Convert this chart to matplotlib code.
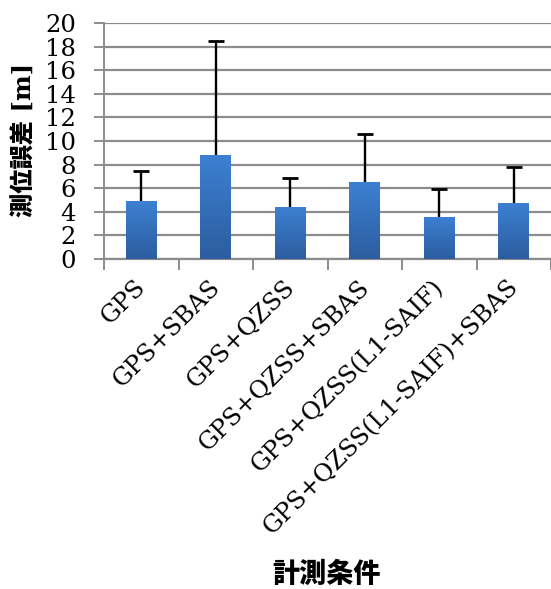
import numpy as np
import matplotlib
matplotlib.use("Agg")
import matplotlib.pyplot as plt
import matplotlib.transforms as mtransforms
from matplotlib.colors import LinearSegmentedColormap

categories = ["GPS", "GPS+SBAS", "GPS+QZSS", "GPS+QZSS+SBAS",
              "GPS+QZSS(L1-SAIF)", "GPS+QZSS(L1-SAIF)+SBAS"]
mean_err = [4.9, 8.8, 4.4, 6.5, 3.6, 4.75]
std_err = [2.6, 9.7, 2.5, 4.1, 2.3, 3.05]
yticks = [0, 2, 4, 6, 8, 10, 12, 14, 16, 18, 20]

fig = plt.figure(figsize=(5.51, 5.89), dpi=100)
ax = fig.add_axes([104/551, 1-259/589, 447/551, (259-23)/589])

x = np.arange(len(categories))
bars = ax.bar(x, mean_err, width=0.41, color="#3570bb", zorder=3)
top = np.array(mean_err) + np.array(std_err)
ax.vlines(x, mean_err, top, colors="black", linewidth=1.7, zorder=2.5)
ax.plot(x, top, linestyle="none", marker="_", markersize=11,
        markeredgewidth=2.0, color="black", zorder=2.6)

# gradient fill clipped to bars
cmap = LinearSegmentedColormap.from_list("g", ["#2c5d9f", "#3d80d2"])
grad = np.linspace(0, 1, 256).reshape(-1, 1)
for b in bars:
    bx, by = b.get_x(), b.get_y()
    w, h = b.get_width(), b.get_height()
    im = ax.imshow(grad, cmap=cmap, aspect="auto", origin="lower",
                   extent=[bx, bx + w, by, by + h], zorder=3.5)
    im.set_clip_path(b)

ax.set_xlim(-0.5, len(categories) - 0.5)
ax.set_ylim(0, 20)
ax.set_yticks(yticks)
ax.set_yticklabels([str(t) for t in yticks], family="DejaVu Serif", fontsize=17.5)
ax.yaxis.grid(True, color="#8c8c8c", linewidth=1.6, zorder=0)
ax.tick_params(axis="y", length=7, width=1.4, color="#8c8c8c", pad=13)

ax.set_xticks(np.arange(len(categories) + 1) - 0.5, minor=True)
ax.set_xticks(x)
ax.set_xticklabels(categories, rotation=45, ha="right", va="top",
                   rotation_mode="anchor", family="DejaVu Serif", fontsize=17.5)
ax.tick_params(axis="x", which="major", length=0, pad=14)
ax.tick_params(axis="x", which="minor", length=8, width=1.4, color="#8c8c8c")
offset = mtransforms.ScaledTranslation(-7/100, 3/100, fig.dpi_scale_trans)
for lab in ax.get_xticklabels():
    lab.set_transform(lab.get_transform() + offset)

for s in ["top", "right"]:
    ax.spines[s].set_visible(False)
ax.spines["left"].set_color("#8c8c8c")
ax.spines["left"].set_linewidth(1.4)
ax.spines["bottom"].set_color("#8c8c8c")
ax.spines["bottom"].set_linewidth(1.6)

fig.text(25/551, 1-140/589, "測位誤差 [m]", rotation=90, ha="center", va="center",
         family=["DejaVu Serif", "Noto Sans CJK JP"], fontweight="black", fontsize=17.5)
fig.text(327/551, 1-574/589, "計測条件", ha="center", va="center",
         family=["Noto Sans CJK JP"], fontweight="black", fontsize=19.5)

fig.savefig("out.png", dpi=100)
